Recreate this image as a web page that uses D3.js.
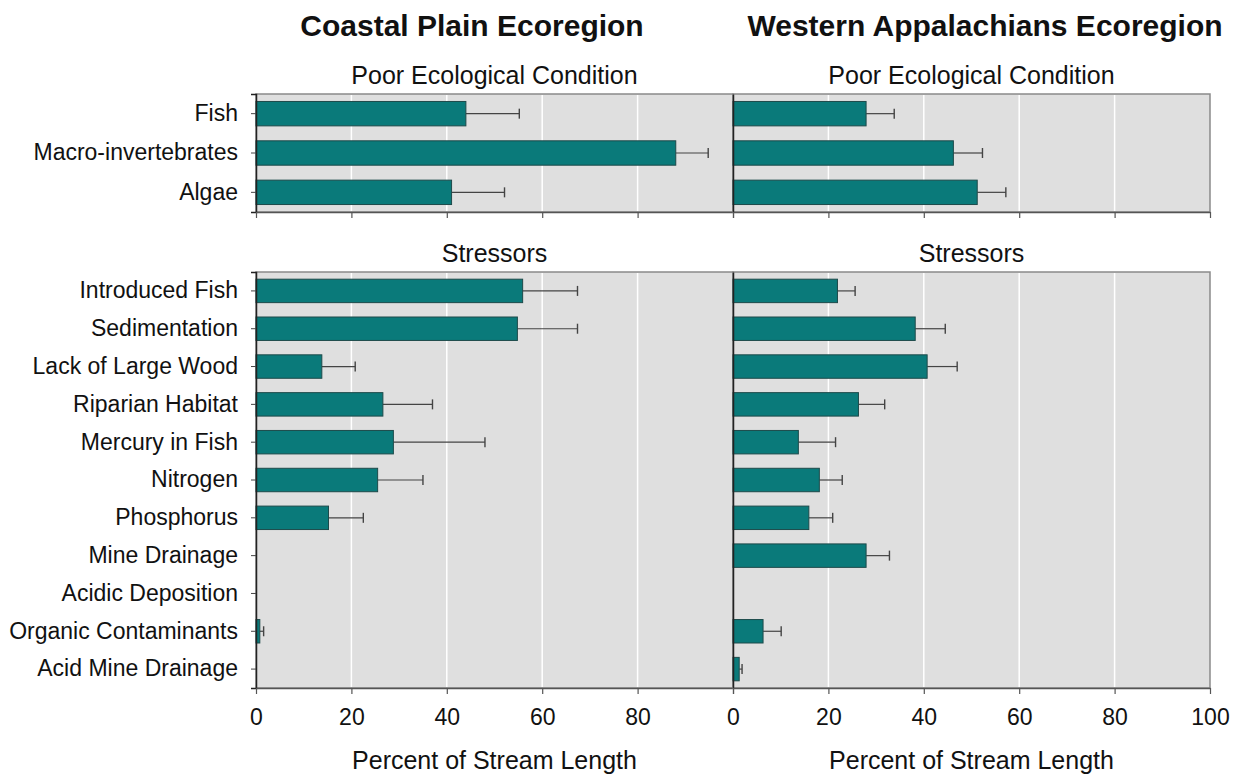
<!DOCTYPE html>
<html>
<head>
<meta charset="utf-8">
<script src="https://cdn.jsdelivr.net/npm/d3@7"></script>
<style>
  body { margin: 0; background: #fff; }
  text { font-family: "Liberation Sans", Arial, sans-serif; fill: #111; }
</style>
</head>
<body>
<div id="chart"></div>
<script>
// categories
const conditionCats = ["Fish", "Macro-invertebrates", "Algae"];
const stressorCats = ["Introduced Fish", "Sedimentation", "Lack of Large Wood", "Riparian Habitat",
  "Mercury in Fish", "Nitrogen", "Phosphorus", "Mine Drainage", "Acidic Deposition",
  "Organic Contaminants", "Acid Mine Drainage"];
const xTicks = [0, 20, 40, 60, 80, 100];

// Coastal Plain (value, upper end of error bar)
const coastalCond = [44.0, 88.0, 41.0];
const coastalCondHi = [55.2, 94.8, 52.1];
const coastalStress = [55.9, 54.8, 13.8, 26.6, 28.8, 25.5, 15.2, 0, 0, 0.8, 0];
const coastalStressHi = [67.4, 67.4, 20.8, 37.0, 48.0, 35.0, 22.5, 0, 0, 1.6, 0];

// Western Appalachians
const appCond = [27.9, 46.2, 51.2];
const appCondHi = [33.8, 52.3, 57.2];
const appStress = [21.9, 38.2, 40.7, 26.3, 13.7, 18.1, 15.9, 27.9, 0, 6.3, 1.3];
const appStressHi = [25.6, 44.5, 47.0, 31.8, 21.5, 22.9, 20.9, 32.8, 0, 10.1, 1.9];

const width = 1242, height = 774;
const svg = d3.select("#chart").append("svg")
  .attr("width", width)
  .attr("height", height);

const xLeft = d3.scaleLinear().domain([0, 100]).range([256, 733]);
const xRight = d3.scaleLinear().domain([0, 100]).range([733, 1210]);

const yCond = d3.scaleBand().domain(conditionCats).range([94, 212]).paddingInner(0.38).paddingOuter(0.19);
const yStress = d3.scaleBand().domain(stressorCats).range([272, 688]).paddingInner(0.38).paddingOuter(0.19);

function drawPanel(x, y, cats, vals, his, showLabels, showLast) {
  const [x0, x1] = x.range();
  const [y0, y1] = y.range();
  const g = svg.append("g");

  g.append("rect")
    .attr("x", x0).attr("y", y0)
    .attr("width", x1 - x0).attr("height", y1 - y0)
    .attr("fill", "#dfdfdf")
    .attr("stroke", "#8a8a8a")
    .attr("stroke-width", 1.5);

  // white gridlines
  g.selectAll(".grid")
    .data([20, 40, 60, 80])
    .enter().append("line")
    .attr("x1", d => x(d)).attr("x2", d => x(d))
    .attr("y1", y0 + 1).attr("y2", y1 - 1)
    .attr("stroke", "#fff")
    .attr("stroke-width", 1.5);

  const rows = cats.map((c, i) => ({ cat: c, v: vals[i], hi: his[i] }));

  // error bars
  const eb = g.selectAll(".err")
    .data(rows.filter(d => d.hi > d.v))
    .enter().append("g");
  eb.append("line")
    .attr("x1", d => x(d.v)).attr("x2", d => x(d.hi))
    .attr("y1", d => y(d.cat) + y.bandwidth() / 2)
    .attr("y2", d => y(d.cat) + y.bandwidth() / 2)
    .attr("stroke", "#444").attr("stroke-width", 1.2);
  eb.append("line")
    .attr("x1", d => x(d.hi)).attr("x2", d => x(d.hi))
    .attr("y1", d => y(d.cat) + y.bandwidth() / 2 - 5)
    .attr("y2", d => y(d.cat) + y.bandwidth() / 2 + 5)
    .attr("stroke", "#444").attr("stroke-width", 1.4);

  // bars
  g.selectAll(".bar")
    .data(rows.filter(d => d.v > 0))
    .enter().append("rect")
    .attr("x", x(0))
    .attr("y", d => y(d.cat))
    .attr("width", d => x(d.v) - x(0))
    .attr("height", y.bandwidth())
    .attr("fill", "#0a7a7a")
    .attr("stroke", "#1d4a4a")
    .attr("stroke-width", 1);

  // left (category) axis
  const yAxis = d3.axisLeft(y).tickSize(showLabels ? 5 : 0).tickPadding(13);
  const ya = g.append("g")
    .attr("transform", `translate(${x0},0)`)
    .call(yAxis);
  ya.select(".domain").attr("stroke", "#222").attr("stroke-width", 1.5);
  ya.selectAll(".tick line").attr("stroke", "#444");
  ya.selectAll(".tick text")
    .attr("font-size", 23)
    .style("display", showLabels ? null : "none");

  // bottom axis
  const ticks = showLast ? xTicks : xTicks.slice(0, -1);
  const xa = g.append("g")
    .attr("transform", `translate(0,${y1})`)
    .call(d3.axisBottom(x).tickValues(xTicks).tickSize(6).tickSizeOuter(0).tickPadding(15));
  xa.select(".domain").attr("stroke", "#555").attr("stroke-width", 1.5);
  xa.selectAll(".tick line").attr("stroke", "#555").attr("stroke-width", 1.2);
  xa.selectAll(".tick text")
    .attr("font-size", 23)
    .style("display", d => (ticks.includes(d) && y1 > 600) ? null : "none");
}

drawPanel(xLeft, yCond, conditionCats, coastalCond, coastalCondHi, true, false);
drawPanel(xRight, yCond, conditionCats, appCond, appCondHi, false, true);
drawPanel(xLeft, yStress, stressorCats, coastalStress, coastalStressHi, true, false);
drawPanel(xRight, yStress, stressorCats, appStress, appStressHi, false, true);

// titles
const cxL = (xLeft.range()[0] + xLeft.range()[1]) / 2;
const cxR = (xRight.range()[0] + xRight.range()[1]) / 2;

svg.append("text").attr("x", 472).attr("y", 36)
  .attr("text-anchor", "middle").attr("font-size", 30).attr("font-weight", "bold")
  .text("Coastal Plain Ecoregion");
svg.append("text").attr("x", 985).attr("y", 36)
  .attr("text-anchor", "middle").attr("font-size", 30).attr("font-weight", "bold")
  .text("Western Appalachians Ecoregion");

[cxL, cxR].forEach(cx => {
  svg.append("text").attr("x", cx).attr("y", 84)
    .attr("text-anchor", "middle").attr("font-size", 25)
    .text("Poor Ecological Condition");
  svg.append("text").attr("x", cx).attr("y", 262)
    .attr("text-anchor", "middle").attr("font-size", 25)
    .text("Stressors");
  svg.append("text").attr("x", cx).attr("y", 769)
    .attr("text-anchor", "middle").attr("font-size", 25)
    .text("Percent of Stream Length");
});
</script>
</body>
</html>
